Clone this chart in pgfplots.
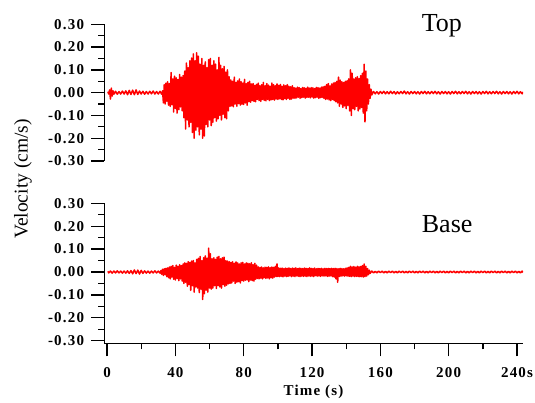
\documentclass[border=0pt]{standalone}
\usepackage{fontspec}
\setmainfont{Liberation Serif}
\newfontfamily\tickfont[LetterSpace=8]{Liberation Serif}
\usepackage{pgfplots}
\usepackage{pgfplotstable}
\pgfplotsset{compat=1.18}

% top trace (velocity, cm/s)
\pgfplotstableread[row sep=\\]{
t v\\
0.5 0.004\\ 1.0 -0.006\\ 1.5 0.012\\ 2.0 -0.028\\ 2.5 0.020\\ 3.0 -0.015\\ 3.5 0.008\\ 4.0 -0.007\\
5 0.006\\ 6 -0.007\\ 7 0.005\\ 8 -0.006\\ 9 0.007\\ 10 -0.006\\ 11 0.008\\ 12 -0.009\\
13 0.010\\ 14 -0.008\\ 15 0.011\\ 16 -0.009\\ 17 0.012\\ 18 -0.008\\ 19 0.007\\ 20 -0.006\\
21 0.006\\ 22 -0.007\\ 23 0.005\\ 24 -0.006\\ 25 0.006\\ 26 -0.005\\ 27 0.007\\ 28 -0.006\\
29 0.005\\ 30 -0.006\\ 31 0.006\\ 32 -0.007\\ 32.5 0.008\\
33.0 -0.045\\ 33.5 0.035\\ 34.0 -0.050\\ 34.5 0.042\\ 35.0 -0.038\\ 35.5 0.048\\ 36.0 -0.055\\ 36.5 0.040\\
37.0 -0.060\\ 37.5 0.088\\ 38.0 -0.052\\ 38.5 0.060\\ 39.0 -0.085\\ 39.5 0.072\\ 40.0 -0.070\\ 40.5 0.065\\
41.0 -0.090\\ 41.5 0.058\\ 42.0 -0.075\\ 42.5 0.080\\ 43.0 -0.062\\ 43.5 0.068\\ 44.0 -0.080\\ 44.5 0.075\\
45.0 -0.110\\ 45.5 0.095\\ 46.0 -0.160\\ 46.5 0.130\\ 47.0 -0.120\\ 47.5 0.110\\ 48.0 -0.150\\ 48.5 0.140\\
49.0 -0.130\\ 49.5 0.152\\ 50.0 -0.175\\ 50.5 0.170\\ 51.0 -0.200\\ 51.5 0.140\\ 52.0 -0.165\\ 52.5 0.175\\
53.0 -0.150\\ 53.5 0.160\\ 54.0 -0.185\\ 54.5 0.125\\ 55.0 -0.160\\ 55.5 0.150\\ 56.0 -0.200\\ 56.5 0.120\\
57.0 -0.190\\ 57.5 0.135\\ 58.0 -0.140\\ 58.5 0.110\\ 59.0 -0.150\\ 59.5 0.145\\ 60.0 -0.120\\ 60.5 0.150\\
61.0 -0.145\\ 61.5 0.120\\ 62.0 -0.130\\ 62.5 0.140\\ 63.0 -0.110\\ 63.5 0.125\\ 64.0 -0.125\\ 64.5 0.100\\
65.0 -0.115\\ 65.5 0.155\\ 66.0 -0.100\\ 66.5 0.120\\ 67.0 -0.120\\ 67.5 0.105\\ 68.0 -0.095\\ 68.5 0.115\\
69.0 -0.110\\ 69.5 0.090\\ 70.0 -0.115\\ 70.5 0.100\\ 71.0 -0.080\\ 71.5 0.070\\ 72.0 -0.060\\ 72.5 0.055\\
73.0 -0.058\\ 73.5 0.050\\ 74.0 -0.062\\ 74.5 0.068\\ 75.0 -0.050\\ 75.5 0.045\\ 76.0 -0.060\\ 76.5 0.052\\
77.0 -0.048\\ 77.5 0.060\\ 78.0 -0.055\\ 78.5 0.048\\ 79.0 -0.050\\ 79.5 0.042\\ 80.0 -0.052\\ 80.5 0.058\\
81.0 -0.045\\ 81.5 0.040\\ 82.0 -0.055\\ 82.5 0.045\\ 83.0 -0.040\\ 83.5 0.050\\ 84.0 -0.042\\ 84.5 0.038\\
85.0 -0.035\\ 85.5 0.040\\ 86.0 -0.038\\ 86.5 0.032\\ 87.0 -0.040\\ 87.5 0.036\\ 88.0 -0.030\\ 88.5 0.042\\
89.0 -0.035\\ 89.5 0.030\\ 90.0 -0.038\\ 90.5 0.035\\ 91.0 -0.030\\ 91.5 0.045\\ 92.0 -0.034\\ 92.5 0.030\\
93.0 -0.036\\ 93.5 0.040\\ 94.0 -0.030\\ 94.5 0.033\\ 95.0 -0.035\\ 95.5 0.028\\ 96.0 -0.032\\ 96.5 0.042\\
97.0 -0.030\\ 97.5 0.035\\ 98.0 -0.033\\ 98.5 0.030\\ 99.0 -0.028\\ 99.5 0.038\\ 100.0 -0.030\\ 100.5 0.032\\
101.0 -0.027\\ 101.5 0.036\\ 102.0 -0.030\\ 102.5 0.028\\ 103.0 -0.032\\ 103.5 0.034\\ 104.0 -0.026\\ 104.5 0.030\\
105.0 -0.030\\ 105.5 0.035\\ 106.0 -0.025\\ 106.5 0.028\\ 107.0 -0.030\\ 107.5 0.026\\ 108.0 -0.028\\ 108.5 0.030\\
109.0 -0.024\\ 109.5 0.022\\ 110.0 -0.025\\ 110.5 0.020\\ 111.0 -0.023\\ 111.5 0.024\\ 112.0 -0.020\\ 112.5 0.022\\
113.0 -0.025\\ 113.5 0.018\\ 114.0 -0.022\\ 114.5 0.023\\ 115.0 -0.020\\ 115.5 0.021\\ 116.0 -0.024\\ 116.5 0.019\\
117.0 -0.021\\ 117.5 0.024\\ 118.0 -0.020\\ 118.5 0.020\\ 119.0 -0.023\\ 119.5 0.022\\ 120.0 -0.019\\ 120.5 0.021\\
121.0 -0.024\\ 121.5 0.018\\ 122.0 -0.022\\ 122.5 0.023\\ 123.0 -0.020\\ 123.5 0.022\\ 124.0 -0.025\\ 124.5 0.020\\
125.0 -0.022\\ 125.5 0.024\\ 126.0 -0.021\\ 126.5 0.026\\ 127.0 -0.025\\ 127.5 0.028\\ 128.0 -0.030\\ 128.5 0.035\\
129.0 -0.028\\ 129.5 0.040\\ 130.0 -0.032\\ 130.5 0.030\\ 131.0 -0.035\\ 131.5 0.038\\ 132.0 -0.030\\ 132.5 0.042\\
133.0 -0.035\\ 133.5 0.045\\ 134.0 -0.040\\ 134.5 0.050\\ 135.0 -0.045\\ 135.5 0.068\\ 136.0 -0.060\\ 136.5 0.055\\
137.0 -0.050\\ 137.5 0.048\\ 138.0 -0.065\\ 138.5 0.045\\ 139.0 -0.058\\ 139.5 0.050\\ 140.0 -0.070\\ 140.5 0.052\\
141.0 -0.055\\ 141.5 0.060\\ 142.0 -0.080\\ 142.5 0.100\\ 143.0 -0.100\\ 143.5 0.085\\ 144.0 -0.070\\ 144.5 0.060\\
145.0 -0.075\\ 145.5 0.065\\ 146.0 -0.060\\ 146.5 0.070\\ 147.0 -0.080\\ 147.5 0.062\\ 148.0 -0.072\\ 148.5 0.075\\
149.0 -0.065\\ 149.5 0.085\\ 150.0 -0.090\\ 150.5 0.125\\ 151.0 -0.128\\ 151.5 0.095\\ 152.0 -0.080\\ 152.5 0.060\\
153.0 -0.050\\ 153.5 0.035\\ 154.0 -0.025\\ 154.5 0.015\\ 155.0 -0.010\\
156 0.005\\ 157 -0.005\\ 158 0.004\\ 159 -0.006\\ 160 0.005\\ 161 -0.004\\ 162 0.006\\ 163 -0.005\\
164 0.004\\ 165 -0.005\\ 166 0.006\\ 167 -0.004\\ 168 0.005\\ 169 -0.006\\ 170 0.004\\ 171 -0.005\\
172 0.005\\ 173 -0.004\\ 174 0.007\\ 175 -0.005\\ 176 0.004\\ 177 -0.006\\ 178 0.005\\ 179 -0.004\\
180 0.005\\ 181 -0.005\\ 182 0.004\\ 183 -0.006\\ 184 0.005\\ 185 -0.004\\ 186 0.006\\ 187 -0.005\\
188 0.004\\ 189 -0.005\\ 190 0.005\\ 191 -0.004\\ 192 0.006\\ 193 -0.005\\ 194 0.004\\ 195 -0.006\\
196 0.005\\ 197 -0.004\\ 198 0.005\\ 199 -0.005\\ 200 0.004\\ 201 -0.006\\ 202 0.005\\ 203 -0.004\\
204 0.006\\ 205 -0.005\\ 206 0.004\\ 207 -0.005\\ 208 0.005\\ 209 -0.004\\ 210 0.006\\ 211 -0.005\\
212 0.004\\ 213 -0.006\\ 214 0.005\\ 215 -0.004\\ 216 0.005\\ 217 -0.005\\ 218 0.004\\ 219 -0.006\\
220 0.005\\ 221 -0.004\\ 222 0.006\\ 223 -0.005\\ 224 0.004\\ 225 -0.005\\ 226 0.005\\ 227 -0.004\\
228 0.006\\ 229 -0.005\\ 230 0.004\\ 231 -0.006\\ 232 0.005\\ 233 -0.004\\ 234 0.005\\ 235 -0.005\\
236 0.004\\ 237 -0.006\\ 238 0.005\\ 239 -0.004\\ 240 0.006\\ 241 -0.005\\ 242 0.004\\ 243 -0.005\\
243.5 0.003\\
}\toptrace

% base trace (velocity, cm/s)
\pgfplotstableread[row sep=\\]{
t v\\
0.5 0.003\\ 1 -0.004\\ 2 0.004\\ 3 -0.005\\ 4 0.004\\ 5 -0.004\\ 6 0.005\\ 7 -0.004\\
8 0.004\\ 9 -0.005\\ 10 0.004\\ 11 -0.005\\ 12 0.005\\ 13 -0.006\\ 14 0.006\\ 15 -0.008\\
16 0.009\\ 17 -0.007\\ 18 0.008\\ 19 -0.009\\ 20 0.007\\ 21 -0.006\\ 22 0.005\\ 23 -0.005\\
24 0.004\\ 25 -0.005\\ 26 0.004\\ 27 -0.004\\ 28 0.005\\ 29 -0.004\\ 30 0.004\\ 31 -0.005\\
31.5 0.006\\ 32 -0.010\\ 32.5 0.012\\
33.0 -0.015\\ 33.5 0.014\\ 34.0 -0.012\\ 34.5 0.016\\ 35.0 -0.020\\ 35.5 0.018\\ 36.0 -0.025\\ 36.5 0.022\\
37.0 -0.030\\ 37.5 0.025\\ 38.0 -0.022\\ 38.5 0.028\\ 39.0 -0.032\\ 39.5 0.020\\ 40.0 -0.035\\ 40.5 0.030\\
41.0 -0.028\\ 41.5 0.025\\ 42.0 -0.038\\ 42.5 0.032\\ 43.0 -0.030\\ 43.5 0.028\\ 44.0 -0.040\\ 44.5 0.035\\
45.0 -0.050\\ 45.5 0.040\\ 46.0 -0.045\\ 46.5 0.038\\ 47.0 -0.062\\ 47.5 0.045\\ 48.0 -0.055\\ 48.5 0.042\\
49.0 -0.080\\ 49.5 0.048\\ 50.0 -0.060\\ 50.5 0.050\\ 51.0 -0.088\\ 51.5 0.040\\ 52.0 -0.065\\ 52.5 0.055\\
53.0 -0.070\\ 53.5 0.060\\ 54.0 -0.090\\ 54.5 0.068\\ 55.0 -0.075\\ 55.5 0.050\\ 56.0 -0.120\\ 56.5 0.062\\
57.0 -0.095\\ 57.5 0.070\\ 58.0 -0.080\\ 58.5 0.060\\ 59.0 -0.088\\ 59.5 0.104\\ 60.0 -0.070\\ 60.5 0.080\\
61.0 -0.075\\ 61.5 0.058\\ 62.0 -0.070\\ 62.5 0.062\\ 63.0 -0.060\\ 63.5 0.055\\ 64.0 -0.072\\ 64.5 0.065\\
65.0 -0.060\\ 65.5 0.068\\ 66.0 -0.065\\ 66.5 0.058\\ 67.0 -0.070\\ 67.5 0.062\\ 68.0 -0.055\\ 68.5 0.065\\
69.0 -0.062\\ 69.5 0.050\\ 70.0 -0.058\\ 70.5 0.048\\ 71.0 -0.052\\ 71.5 0.045\\ 72.0 -0.050\\ 72.5 0.042\\
73.0 -0.048\\ 73.5 0.045\\ 74.0 -0.040\\ 74.5 0.038\\ 75.0 -0.050\\ 75.5 0.044\\ 76.0 -0.045\\ 76.5 0.040\\
77.0 -0.042\\ 77.5 0.035\\ 78.0 -0.048\\ 78.5 0.040\\ 79.0 -0.038\\ 79.5 0.042\\ 80.0 -0.040\\ 80.5 0.035\\
81.0 -0.036\\ 81.5 0.040\\ 82.0 -0.035\\ 82.5 0.038\\ 83.0 -0.042\\ 83.5 0.036\\ 84.0 -0.035\\ 84.5 0.040\\
85.0 -0.038\\ 85.5 0.032\\ 86.0 -0.040\\ 86.5 0.038\\ 87.0 -0.032\\ 87.5 0.030\\ 88.0 -0.028\\ 88.5 0.022\\
89.0 -0.030\\ 89.5 0.020\\ 90.0 -0.027\\ 90.5 0.022\\ 91.0 -0.030\\ 91.5 0.018\\ 92.0 -0.025\\ 92.5 0.021\\
93.0 -0.028\\ 93.5 0.020\\ 94.0 -0.026\\ 94.5 0.022\\ 95.0 -0.030\\ 95.5 0.019\\ 96.0 -0.025\\ 96.5 0.022\\
97.0 -0.027\\ 97.5 0.020\\ 98.0 -0.022\\ 98.5 0.025\\ 99.0 -0.020\\ 99.5 0.035\\ 100.0 -0.020\\ 100.5 0.018\\
101.0 -0.020\\ 101.5 0.016\\ 102.0 -0.019\\ 102.5 0.017\\ 103.0 -0.021\\ 103.5 0.015\\ 104.0 -0.018\\ 104.5 0.017\\
105.0 -0.020\\ 105.5 0.016\\ 106.0 -0.019\\ 106.5 0.018\\ 107.0 -0.017\\ 107.5 0.015\\ 108.0 -0.020\\ 108.5 0.017\\
109.0 -0.018\\ 109.5 0.016\\ 110.0 -0.020\\ 110.5 0.018\\ 111.0 -0.017\\ 111.5 0.015\\ 112.0 -0.019\\ 112.5 0.017\\
113.0 -0.020\\ 113.5 0.016\\ 114.0 -0.018\\ 114.5 0.015\\ 115.0 -0.019\\ 115.5 0.017\\ 116.0 -0.018\\ 116.5 0.016\\
117.0 -0.020\\ 117.5 0.015\\ 118.0 -0.017\\ 118.5 0.018\\ 119.0 -0.019\\ 119.5 0.016\\ 120.0 -0.018\\ 120.5 0.015\\
121.0 -0.020\\ 121.5 0.017\\ 122.0 -0.016\\ 122.5 0.014\\ 123.0 -0.018\\ 123.5 0.016\\ 124.0 -0.017\\ 124.5 0.015\\
125.0 -0.019\\ 125.5 0.016\\ 126.0 -0.017\\ 126.5 0.014\\ 127.0 -0.018\\ 127.5 0.016\\ 128.0 -0.017\\ 128.5 0.015\\
129.0 -0.019\\ 129.5 0.016\\ 130.0 -0.018\\ 130.5 0.015\\ 131.0 -0.017\\ 131.5 0.016\\ 132.0 -0.020\\ 132.5 0.015\\
133.0 -0.022\\ 133.5 0.016\\ 134.0 -0.030\\ 134.5 0.015\\ 135.0 -0.045\\ 135.5 0.014\\ 136.0 -0.020\\ 136.5 0.016\\
137.0 -0.018\\ 137.5 0.015\\ 138.0 -0.017\\ 138.5 0.014\\ 139.0 -0.018\\ 139.5 0.016\\ 140.0 -0.017\\ 140.5 0.018\\
141.0 -0.018\\ 141.5 0.020\\ 142.0 -0.019\\ 142.5 0.025\\ 143.0 -0.020\\ 143.5 0.022\\ 144.0 -0.018\\ 144.5 0.024\\
145.0 -0.020\\ 145.5 0.021\\ 146.0 -0.019\\ 146.5 0.025\\ 147.0 -0.020\\ 147.5 0.022\\ 148.0 -0.021\\ 148.5 0.024\\
149.0 -0.020\\ 149.5 0.028\\ 150.0 -0.022\\ 150.5 0.035\\ 151.0 -0.020\\ 151.5 0.025\\ 152.0 -0.018\\ 152.5 0.015\\
153.0 -0.012\\ 153.5 0.008\\ 154.0 -0.006\\ 155 0.004\\
156 -0.004\\ 157 0.003\\ 158 -0.004\\ 159 0.004\\ 160 -0.003\\ 161 0.004\\ 162 -0.004\\ 163 0.003\\
164 -0.004\\ 165 0.004\\ 166 -0.003\\ 167 0.004\\ 168 -0.004\\ 169 0.003\\ 170 -0.004\\ 171 0.004\\
172 -0.003\\ 173 0.004\\ 174 -0.004\\ 175 0.003\\ 176 -0.004\\ 177 0.004\\ 178 -0.003\\ 179 0.004\\
180 -0.004\\ 181 0.003\\ 182 -0.004\\ 183 0.004\\ 184 -0.003\\ 185 0.004\\ 186 -0.004\\ 187 0.003\\
188 -0.004\\ 189 0.004\\ 190 -0.003\\ 191 0.004\\ 192 -0.004\\ 193 0.003\\ 194 -0.004\\ 195 0.004\\
196 -0.003\\ 197 0.004\\ 198 -0.004\\ 199 0.003\\ 200 -0.004\\ 201 0.004\\ 202 -0.003\\ 203 0.004\\
204 -0.004\\ 205 0.003\\ 206 -0.004\\ 207 0.004\\ 208 -0.003\\ 209 0.004\\ 210 -0.004\\ 211 0.003\\
212 -0.004\\ 213 0.004\\ 214 -0.003\\ 215 0.004\\ 216 -0.004\\ 217 0.003\\ 218 -0.004\\ 219 0.004\\
220 -0.003\\ 221 0.004\\ 222 -0.004\\ 223 0.003\\ 224 -0.004\\ 225 0.004\\ 226 -0.003\\ 227 0.004\\
228 -0.004\\ 229 0.003\\ 230 -0.004\\ 231 0.004\\ 232 -0.003\\ 233 0.004\\ 234 -0.004\\ 235 0.003\\
236 -0.004\\ 237 0.004\\ 238 -0.003\\ 239 0.004\\ 240 -0.004\\ 241 0.003\\ 242 -0.004\\ 243 0.004\\
243.5 -0.002\\
}\basetrace

\pgfplotsset{
  trace/.style={
    scale only axis, width=418.7bp,
    xmin=-1.6, xmax=243.5, ymax=0.3,
    axis y line*=left,
    axis line style={-, line width=1.3bp},
    tick style={black, line width=1.3bp},
    tick align=outside,
    major tick length=13bp, minor tick length=6bp,
    ytick={-0.3,-0.2,-0.1,0,0.1,0.2,0.3},
    minor y tick num=1,
    /pgf/number format/assume math mode=true,
    yticklabel style={/pgf/number format/fixed, /pgf/number format/fixed zerofill,
      /pgf/number format/precision=2, anchor=east, inner sep=0pt, xshift=-7bp},
    ticklabel style={font=\tickfont\bfseries\fontsize{15bp}{17bp}\selectfont},
  },
  sig/.style={red, line width=1.5bp, line join=round, mark=none},
}

\begin{document}
\begin{tikzpicture}
\useasboundingbox (0,0) rectangle (535bp,403bp);

\begin{axis}[trace, at={(104.3bp,242bp)}, anchor=south west,
  height=136.7bp, ymin=-0.3,
  axis x line=none, xtick=\empty]
\addplot[sig] table[x=t, y=v] {\toptrace};
\end{axis}

\begin{axis}[trace, at={(104.3bp,59.7bp)}, anchor=south west,
  height=140bp, ymin=-0.3114,
  axis x line*=bottom,
  xtick={0,40,80,120,160,200,240},
  xticklabels={0,40,80,120,160,200,240s},
  minor x tick num=1,
  xticklabel style={anchor=north, inner sep=0pt, yshift=-11bp}]
\addplot[sig] table[x=t, y=v] {\basetrace};
\end{axis}

\node[rotate=90, font=\fontsize{19.5bp}{22bp}\selectfont] at (23bp,224bp) {Velocity (cm/s)};
\node[anchor=base west, inner sep=0pt, font=\fontsize{26bp}{28bp}\selectfont] at (421.7bp,371.3bp) {Top};
\node[anchor=base west, inner sep=0pt, font=\fontsize{26bp}{28bp}\selectfont] at (421.7bp,170.7bp) {Base};
\node[anchor=base, inner sep=0pt, font=\tickfont\bfseries\fontsize{15bp}{17bp}\selectfont] at (313.5bp,7.5bp) {Time (s)};
\end{tikzpicture}
\end{document}
